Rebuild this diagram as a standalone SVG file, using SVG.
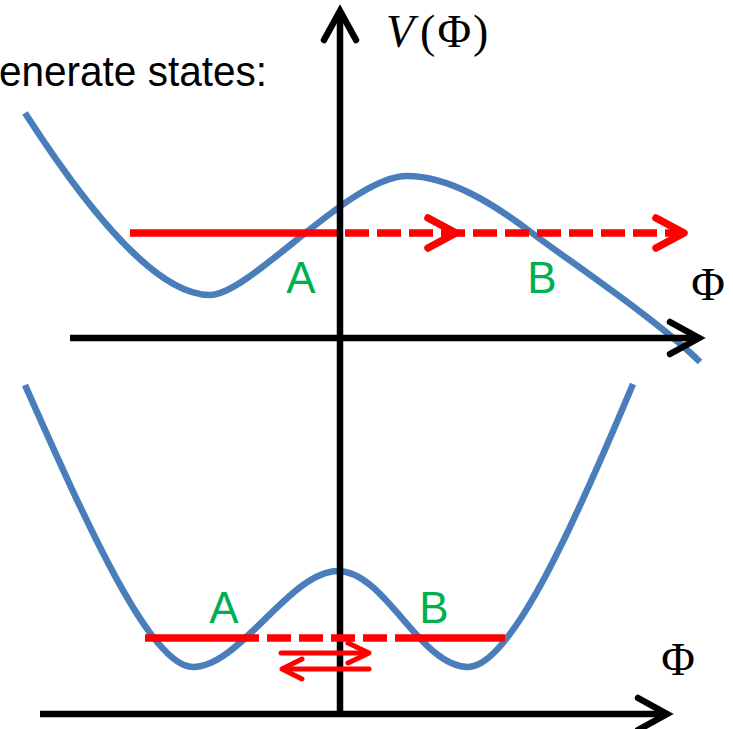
<svg xmlns="http://www.w3.org/2000/svg" width="733" height="729" viewBox="0 0 733 729">
<style>
.curve{fill:none;stroke:#4A7EBB;stroke-width:6.5;stroke-linecap:butt}
.axis{fill:none;stroke:#000;stroke-width:6.5;stroke-linecap:butt}
.head{fill:none;stroke:#000;stroke-width:6.5;stroke-linecap:round;stroke-linejoin:miter}
.red{fill:none;stroke:#FF0000;stroke-width:7.5}
.dash{stroke-dasharray:24 8}
.rhead{fill:none;stroke:#FF0000;stroke-width:7.5;stroke-linecap:round;stroke-linejoin:round}
.thin{fill:none;stroke:#FF0000;stroke-width:5;stroke-linecap:round;stroke-linejoin:round}
.lbl{font-family:"Liberation Sans",Arial,sans-serif;font-size:44px;fill:#00B050;text-anchor:middle}
.math{font-family:"Liberation Serif","Times New Roman",serif;font-size:46px;fill:#000}
</style>
<rect width="733" height="729" fill="#fff"/>
<g id="title">
<text x="-1" y="86" font-family="Liberation Sans, Arial, sans-serif" font-size="42" textLength="268" lengthAdjust="spacingAndGlyphs" fill="#000">enerate states:</text>
</g>
<g id="upper-potential">
<path class="curve" d="M25,113 C105,237 165,295 210,295 C250,295 350,176 407,176 C450,176 495,205 532,233 C572,263 660,322 700,362"/>
</g>
<g id="lower-potential">
<path class="curve" d="M25,385 C85,520 150,667 193,667 C240,667 290,571 338,571 C385,571 420,667 468,667 C511,667 576,520 633,384"/>
</g>
<g id="upper-tunnel">
<line class="red" x1="130" y1="233" x2="313" y2="233"/>
<line class="red dash" x1="313" y1="233" x2="682" y2="233"/>
<polyline class="rhead" points="428,218 456,233 428,248"/>
<polyline class="rhead" points="656,218 684,233 656,248"/>
</g>
<g id="axes">
<line class="axis" x1="340" y1="12" x2="340" y2="716"/>
<polyline class="head" points="324,40 340,11 356,40"/>
<line class="axis" x1="70" y1="338" x2="698" y2="338"/>
<polyline class="head" points="670,322 699,338 670,354"/>
<line class="axis" x1="40" y1="714" x2="666" y2="714"/>
<polyline class="head" points="638,698 667,714 638,730"/>
</g>
<g id="lower-tunnel">
<line class="red" x1="145" y1="638" x2="235" y2="638"/>
<line class="red dash" x1="235" y1="638" x2="395" y2="638" stroke-dasharray="23 9"/>
<line class="red" x1="395" y1="638" x2="505" y2="638"/>
<line class="thin" x1="281" y1="653" x2="367" y2="653"/>
<polyline class="thin" points="348,643 369,653 348,663"/>
<line class="thin" x1="369" y1="669" x2="284" y2="669"/>
<polyline class="thin" points="302,659 282,669 302,679"/>
</g>
<g id="labels">
<text class="lbl" x="301" y="293">A</text>
<text class="lbl" x="542" y="293">B</text>
<text class="lbl" x="224" y="623">A</text>
<text class="lbl" x="434" y="623">B</text>
<text class="math" x="386" y="47"><tspan font-style="italic">V</tspan><tspan dx="6">(</tspan><tspan dx="2">Φ</tspan><tspan dx="2">)</tspan></text>
<text class="math" x="708" y="300" text-anchor="middle">Φ</text>
<text class="math" x="678" y="675" text-anchor="middle">Φ</text>
</g>
</svg>
